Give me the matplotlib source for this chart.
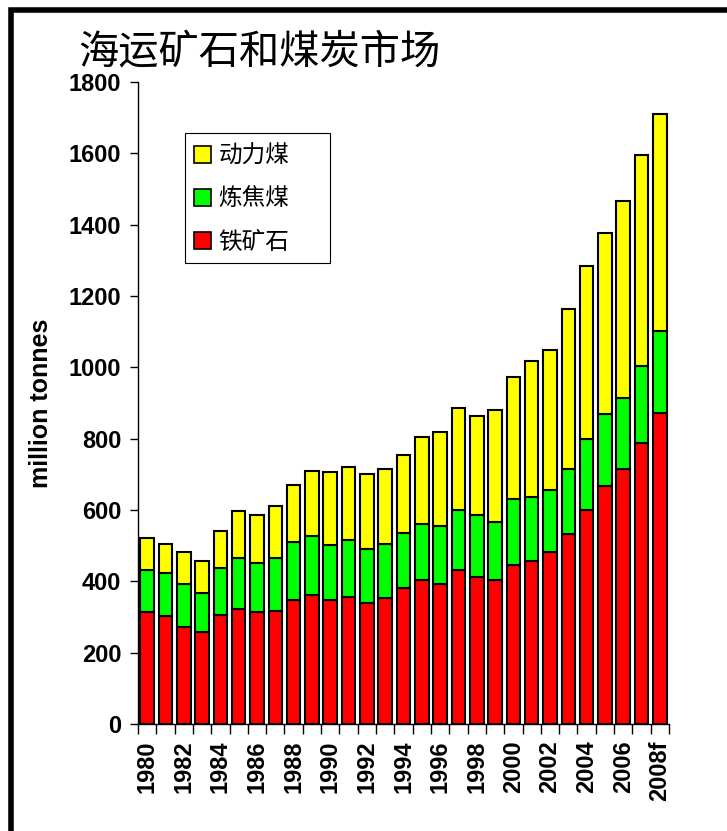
import matplotlib
matplotlib.use("Agg")
import matplotlib.pyplot as plt
import matplotlib.patches as mpatches
import numpy as np

plt.rcParams['font.family'] = ['Liberation Sans', 'Noto Sans CJK SC', 'DejaVu Sans']

# ---------- data (million tonnes) ----------
years = [str(y) for y in range(1980, 2008)] + ['2008f']
iron_ore = [313, 303, 273, 259, 307, 322, 313, 318, 348, 362, 348, 357, 338, 352, 382,
            403, 393, 433, 413, 403, 447, 458, 482, 532, 601, 666, 716, 787, 872]
coking_coal = [119, 119, 120, 109, 129, 144, 139, 148, 163, 165, 154, 159, 153, 154, 154,
               158, 163, 167, 174, 163, 184, 178, 174, 184, 199, 203, 199, 217, 231]
steam_coal = [90, 84, 88, 89, 105, 130, 134, 145, 159, 183, 204, 204, 210, 209, 219,
              244, 264, 285, 277, 313, 343, 383, 392, 447, 483, 508, 552, 592, 607]
series_names = ['铁矿石', '炼焦煤', '动力煤']
series_colors = ['#ff0000', '#00ff00', '#ffff00']

title = '海运矿石和煤炭市场'
ylabel = 'million tonnes'

# ---------- figure ----------
W, H = 727, 831
fig = plt.figure(figsize=(7.27, 8.31), dpi=100)
ax = fig.add_axes([138/W, 1-724/H, 531/W, 642/H])

x = np.arange(len(years))
bottom = np.zeros(len(years))
for vals, name, col in zip([iron_ore, coking_coal, steam_coal], series_names, series_colors):
    ax.bar(x, vals, width=0.74, bottom=bottom, color=col, edgecolor='black',
           linewidth=1.5, label=name)
    bottom += np.array(vals)

ax.set_xlim(-0.5, len(years) - 0.5)
ax.set_ylim(0, 1800)
ax.set_yticks(range(0, 1801, 200))
ax.tick_params(axis='y', direction='out', length=6, width=1, pad=6, labelsize=17)
for t in ax.get_yticklabels():
    t.set_fontweight('bold')

# labels every other year, ticks between bars
ax.set_xticks(x[::2])
ax.set_xticklabels(years[::2], rotation=90, fontsize=17, fontweight='bold')
ax.tick_params(axis='x', which='major', length=0, pad=12)
ax.set_xticks(np.arange(-0.5, len(years)), minor=True)
ax.tick_params(axis='x', which='minor', direction='out', length=7, width=1)

for s in ['top', 'right']:
    ax.spines[s].set_visible(False)
ax.spines['left'].set_linewidth(1)
ax.spines['bottom'].set_linewidth(1)

ax.set_ylabel(ylabel, fontsize=18, fontweight='bold')
ax.yaxis.set_label_coords(-0.16, 0.5)

# legend: top to bottom 动力煤, 炼焦煤, 铁矿石 ; box drawn by hand
handles = [mpatches.Patch(facecolor=c, edgecolor='black', linewidth=1.2)
           for c in series_colors[::-1]]
leg = ax.legend(handles, series_names[::-1], loc='upper left',
                bbox_to_anchor=((189-138)/531, (724-140)/642),
                prop={'family': ['Noto Sans CJK SC'], 'size': 17},
                frameon=False,
                handlelength=0.75, handleheight=0.75, handletextpad=0.3,
                labelspacing=0.85, borderpad=0.2, borderaxespad=0)
box = mpatches.Rectangle(((185-138)/531, (724-263)/642), 145/531, 130/642,
                         transform=ax.transAxes, fill=True, facecolor='white',
                         edgecolor='black', linewidth=0.8, zorder=4)
ax.add_patch(box)
leg.set_zorder(5)

fig.text(78/W, 1-53/H, title, fontsize=29, family=['Noto Sans CJK SC'],
         ha='left', va='center')

# thick frame on left and top edges
frame = mpatches.Rectangle((10.5/W, -0.2), 2.0, 1.2 - 9.5/H, transform=fig.transFigure,
                           fill=False, edgecolor='black', linewidth=4, clip_on=False)
fig.add_artist(frame)

fig.savefig('out.png', dpi=100)
